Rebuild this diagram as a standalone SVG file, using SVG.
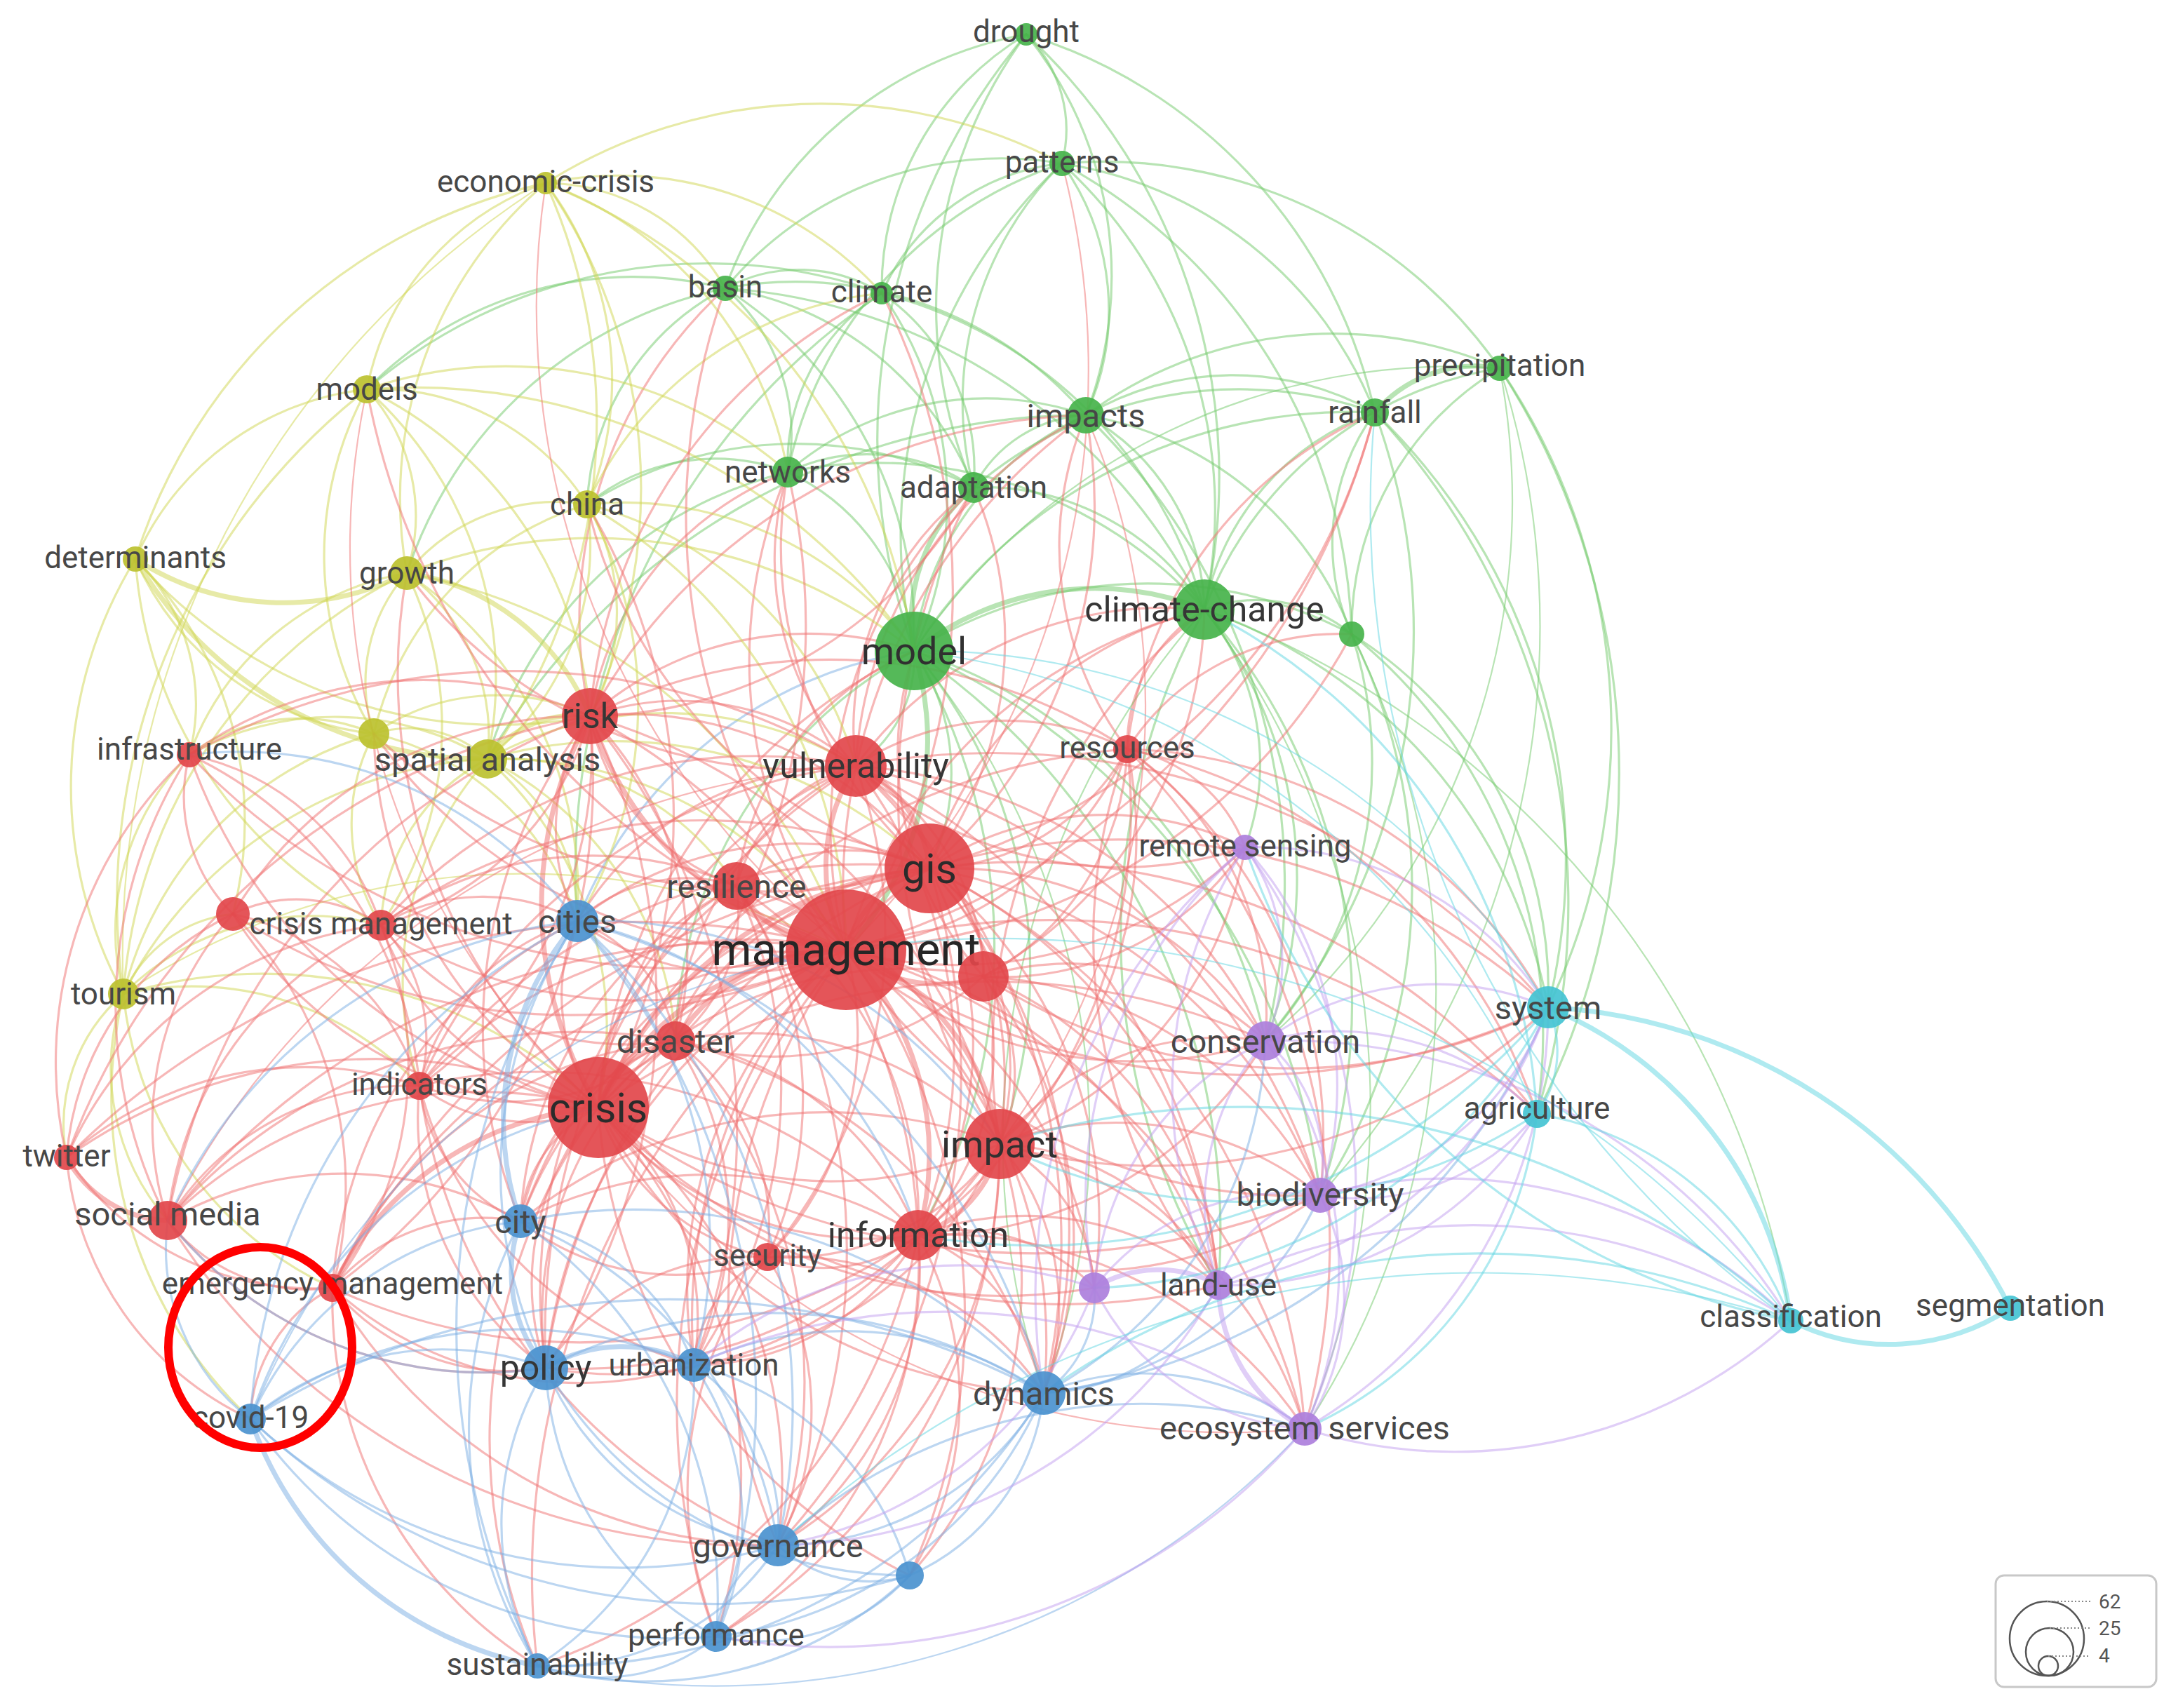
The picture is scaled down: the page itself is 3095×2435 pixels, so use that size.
<svg xmlns="http://www.w3.org/2000/svg" width="3095" height="2435" viewBox="0 0 3095 2435">
<style>
.e path{fill:none;stroke-width:3.2;stroke-opacity:.5;stroke-linecap:round}
.e .t{stroke-width:7}
.e .n{stroke-width:2.2}
.r{stroke:#ef6f70}.g{stroke:#72c96a}.y{stroke:#cfd54f}.b{stroke:#79ade3}.p{stroke:#c29df0}.c{stroke:#5fd6e2}
circle.R{fill:#e2474b}circle.G{fill:#46b34b}circle.Y{fill:#bcc12f}circle.B{fill:#4b92cf}circle.P{fill:#ad7fdc}circle.C{fill:#44c3d2}
.node circle{fill-opacity:.92}
.node text{font-family:Roboto,"Liberation Sans",sans-serif;text-anchor:middle;dominant-baseline:central;fill:#474747;font-size:44px}
.f47 text{font-size:47px}.f50 text{font-size:50px;fill:#363636}.f54 text{font-size:54px;fill:#303030}.f59 text{font-size:59px;fill:#2b2b2b}.f65 text{font-size:65px;fill:#262626}
.leg text{font-family:Roboto,"Liberation Sans",sans-serif;font-size:28px;fill:#555}
</style>
<rect width="3095" height="2435" fill="#fff"/>
<g id="connectors" class="e">
<path class="g" d="M1463 49A190 190 0 0 1 1514 233"/>
<path class="g" d="M1463 49A550 550 0 0 1 1548 592"/>
<path class="g" d="M1463 49A730 730 0 0 1 1960 588"/>
<path class="g" d="M1463 49A860 860 0 0 1 1717 869"/>
<path class="g" d="M1034 411A561 561 0 0 1 1463 49"/>
<path class="g" d="M1257 418A422 422 0 0 1 1463 49"/>
<path class="g" d="M1303 928A893 893 0 0 1 1463 49"/>
<path class="g" d="M1388 695A650 650 0 0 1 1463 49"/>
<path class="g" d="M1514 233A360 360 0 0 1 1548 592"/>
<path class="g" d="M1514 233A570 570 0 0 1 1960 588"/>
<path class="g" d="M1514 233A689 689 0 0 1 2138 525"/>
<path class="g" d="M1034 411A512 512 0 0 1 1514 233"/>
<path class="g" d="M1257 418A317 317 0 0 1 1514 233"/>
<path class="g" d="M1514 233A668 668 0 0 1 1717 869"/>
<path class="g" d="M1303 928A726 726 0 0 1 1514 233"/>
<path class="g" d="M1388 695A479 479 0 0 1 1514 233"/>
<path class="g" d="M1123 673A589 589 0 0 1 1514 233"/>
<path class="g" d="M1514 233A788 788 0 0 1 1927 904"/>
<path class="g" d="M1034 411A223 223 0 0 1 1257 418"/>
<path class="g" d="M1034 411A277 277 0 0 1 1123 673"/>
<path class="g" d="M1034 411A583 583 0 0 1 1303 928"/>
<path class="g" d="M1034 411A822 822 0 0 1 1717 869"/>
<path class="g" d="M1034 411A545 545 0 0 1 1548 592"/>
<path class="g" d="M1034 411A454 454 0 0 1 1388 695"/>
<path class="g" d="M1123 673A288 288 0 0 1 1257 418"/>
<path class="g" d="M1257 418A512 512 0 0 1 1303 928"/>
<path class="g" d="M1257 418A306 306 0 0 1 1388 695"/>
<path class="g" d="M1257 418A644 644 0 0 1 1717 869"/>
<path class="g" d="M1548 592A412 412 0 0 1 1960 588"/>
<path class="g" d="M1548 592A324 324 0 0 1 1717 869"/>
<path class="g" d="M1303 928A416 416 0 0 1 1548 592"/>
<path class="g" d="M1388 695A190 190 0 0 1 1548 592"/>
<path class="g" d="M1123 673A433 433 0 0 1 1548 592"/>
<path class="g" d="M1548 592A594 594 0 0 1 2138 525"/>
<path class="g" d="M1548 592A491 491 0 0 1 1927 904"/>
<path class="g t" d="M1960 588A189 189 0 0 1 2138 525"/>
<path class="g" d="M1717 869A371 371 0 0 1 1960 588"/>
<path class="g" d="M1927 904A318 318 0 0 1 1960 588"/>
<path class="g" d="M1303 928A740 740 0 0 1 1960 588"/>
<path class="g" d="M1717 869A544 544 0 0 1 2138 525"/>
<path class="g" d="M1927 904A434 434 0 0 1 2138 525"/>
<path class="g" d="M1123 673A312 312 0 0 1 1303 928"/>
<path class="g" d="M1123 673A266 266 0 0 1 1388 695"/>
<path class="g" d="M1123 673A625 625 0 0 1 1717 869"/>
<path class="g t" d="M1303 928A248 248 0 0 1 1388 695"/>
<path class="g" d="M1388 695A372 372 0 0 1 1717 869"/>
<path class="g t" d="M1303 928A418 418 0 0 1 1717 869"/>
<path class="g" d="M1717 869A213 213 0 0 1 1927 904"/>
<path class="g" d="M1303 928A624 624 0 0 1 1927 904"/>
<path class="g" d="M1388 695A582 582 0 0 1 1960 588"/>
<path class="g n" d="M1303 928A927 927 0 0 1 2138 525"/>
<path class="g t" d="M1303 928A437 437 0 0 1 1206 1354"/>
<path class="g" d="M1303 928A184 184 0 0 1 1220 1092"/>
<path class="g" d="M1303 928A311 311 0 0 1 1325 1238"/>
<path class="r" d="M841 1021A471 471 0 0 1 1303 928"/>
<path class="r" d="M853 1579A791 791 0 0 1 1303 928"/>
<path class="g" d="M1303 928A713 713 0 0 1 1425 1631"/>
<path class="r" d="M1206 1354A705 705 0 0 1 1717 869"/>
<path class="r" d="M1220 1092A545 545 0 0 1 1717 869"/>
<path class="r" d="M1325 1238A538 538 0 0 1 1717 869"/>
<path class="r" d="M1607 1068A227 227 0 0 1 1717 869"/>
<path class="g" d="M1717 869A621 621 0 0 1 1804 1484"/>
<path class="g" d="M1717 869A851 851 0 0 1 1882 1704"/>
<path class="r" d="M1425 1631A816 816 0 0 1 1717 869"/>
<path class="g" d="M1717 869A749 749 0 0 1 2207 1436"/>
<path class="g" d="M1927 904A601 601 0 0 1 2207 1436"/>
<path class="g" d="M1927 904A593 593 0 0 1 1804 1484"/>
<path class="g" d="M1927 904A801 801 0 0 1 1882 1704"/>
<path class="g" d="M1927 904A733 733 0 0 1 2191 1588"/>
<path class="g" d="M1960 588A883 883 0 0 1 2207 1436"/>
<path class="g" d="M2138 525A914 914 0 0 1 2207 1436"/>
<path class="g" d="M2138 525A1064 1064 0 0 1 2191 1588"/>
<path class="r" d="M1206 1354A684 684 0 0 1 1388 695"/>
<path class="r" d="M1220 1092A431 431 0 0 1 1388 695"/>
<path class="r" d="M841 1021A448 448 0 0 1 1123 673"/>
<path class="r" d="M1206 1354A686 686 0 0 1 1123 673"/>
<path class="r" d="M841 1021A640 640 0 0 1 1034 411"/>
<path class="y" d="M837 719A517 517 0 0 1 1257 418"/>
<path class="r" d="M1220 1092A598 598 0 0 1 1548 592"/>
<path class="r" d="M1206 1354A835 835 0 0 1 1548 592"/>
<path class="y" d="M778 261A297 297 0 0 1 1034 411"/>
<path class="y" d="M778 261A737 737 0 0 1 1514 233"/>
<path class="y" d="M778 261A504 504 0 0 1 1257 418"/>
<path class="g" d="M1303 928A748 748 0 0 1 1804 1484"/>
<path class="b" d="M823 1313A615 615 0 0 1 1303 928"/>
<path class="g n" d="M1303 928A1074 1074 0 0 1 1488 1986"/>
<path class="g n" d="M1927 904A1135 1135 0 0 1 1860 2037"/>
<path class="g n" d="M1717 869A1314 1314 0 0 1 2553 1883"/>
<path class="g" d="M1548 592A928 928 0 0 1 1804 1484"/>
<path class="g" d="M1960 588A910 910 0 0 1 1804 1484"/>
<path class="g n" d="M2138 525A1015 1015 0 0 1 1804 1484"/>
<path class="g n" d="M2138 525A1206 1206 0 0 1 1882 1704"/>
<path class="g" d="M1960 588A1026 1026 0 0 1 2191 1588"/>
<path class="g" d="M1717 869A963 963 0 0 0 1737 1832"/>
<path class="g n" d="M1717 869A1177 1177 0 0 1 1860 2037"/>
<path class="g" d="M1717 869A344 344 0 0 1 1775 1208"/>
<path class="g n" d="M1717 869A1140 1140 0 0 0 1488 1986"/>
<path class="g" d="M1303 928A969 969 0 0 1 1882 1704"/>
<path class="g" d="M1303 928A1003 1003 0 0 1 1737 1832"/>
<path class="g" d="M1303 928A833 833 0 0 1 1309 1761"/>
<path class="g" d="M1303 928A652 652 0 0 0 963 1484"/>
<path class="g" d="M1034 411A609 609 0 0 0 580 817"/>
<path class="g" d="M1257 418A995 995 0 0 0 823 1313"/>
<path class="g" d="M1548 592A984 984 0 0 0 695 1082"/>
<path class="g" d="M1123 673A592 592 0 0 0 695 1082"/>
<path class="g" d="M1123 673A290 290 0 0 0 837 719"/>
<path class="g" d="M1388 695A552 552 0 0 0 837 719"/>
<path class="g" d="M1034 411A366 366 0 0 0 837 719"/>
<path class="g" d="M1034 411A531 531 0 0 0 523 555"/>
<path class="g" d="M1257 418A747 747 0 0 0 523 555"/>
<path class="y" d="M778 261A389 389 0 0 0 523 555"/>
<path class="y" d="M778 261A462 462 0 0 1 837 719"/>
<path class="y" d="M778 261A590 590 0 0 0 580 817"/>
<path class="y" d="M778 261A793 793 0 0 0 193 797"/>
<path class="y" d="M778 261A825 825 0 0 1 695 1082"/>
<path class="y" d="M778 261A763 763 0 0 1 841 1021"/>
<path class="y n" d="M778 261A1303 1303 0 0 0 176 1417"/>
<path class="y" d="M778 261A849 849 0 0 1 1303 928"/>
<path class="y" d="M778 261A537 537 0 0 1 1123 673"/>
<path class="y" d="M523 555A409 409 0 0 0 193 797"/>
<path class="y" d="M523 555A268 268 0 0 1 580 817"/>
<path class="y" d="M523 555A354 354 0 0 1 837 719"/>
<path class="y" d="M523 555A554 554 0 0 1 695 1082"/>
<path class="y" d="M523 555A491 491 0 0 0 533 1046"/>
<path class="y" d="M523 555A564 564 0 0 1 841 1021"/>
<path class="y" d="M523 555A929 929 0 0 0 176 1417"/>
<path class="y" d="M523 555A865 865 0 0 1 1303 928"/>
<path class="y" d="M523 555A611 611 0 0 1 1123 673"/>
<path class="y" d="M837 719A275 275 0 0 0 580 817"/>
<path class="y" d="M837 719A390 390 0 0 1 695 1082"/>
<path class="y" d="M837 719A302 302 0 0 1 841 1021"/>
<path class="y" d="M837 719A446 446 0 0 0 533 1046"/>
<path class="y" d="M837 719A511 511 0 0 1 1303 928"/>
<path class="y" d="M837 719A534 534 0 0 1 1220 1092"/>
<path class="y" d="M837 719A734 734 0 0 1 1206 1354"/>
<path class="y" d="M837 719A594 594 0 0 1 823 1313"/>
<path class="y t" d="M193 797A388 388 0 0 0 580 817"/>
<path class="y" d="M193 797A421 421 0 0 0 533 1046"/>
<path class="y t" d="M193 797A577 577 0 0 0 695 1082"/>
<path class="y" d="M193 797A620 620 0 0 0 176 1417"/>
<path class="y" d="M193 797A686 686 0 0 0 841 1021"/>
<path class="y" d="M193 797A290 290 0 0 1 270 1076"/>
<path class="y" d="M193 797A628 628 0 0 0 543 1319"/>
<path class="y" d="M193 797A525 525 0 0 1 332 1303"/>
<path class="y" d="M580 817A289 289 0 0 1 695 1082"/>
<path class="y" d="M580 817A234 234 0 0 0 533 1046"/>
<path class="y t" d="M580 817A331 331 0 0 1 841 1021"/>
<path class="y" d="M580 817A723 723 0 0 0 176 1417"/>
<path class="y" d="M580 817A731 731 0 0 1 1303 928"/>
<path class="y" d="M580 817A552 552 0 0 1 823 1313"/>
<path class="y" d="M580 817A825 825 0 0 1 1206 1354"/>
<path class="y" d="M580 817A503 503 0 0 1 543 1319"/>
<path class="y" d="M580 817A404 404 0 0 0 270 1076"/>
<path class="y" d="M533 1046A166 166 0 0 1 695 1082"/>
<path class="y" d="M533 1046A309 309 0 0 1 841 1021"/>
<path class="y" d="M533 1046A515 515 0 0 0 176 1417"/>
<path class="y" d="M533 1046A265 265 0 0 0 270 1076"/>
<path class="y" d="M533 1046A273 273 0 0 0 543 1319"/>
<path class="y" d="M533 1046A394 394 0 0 1 823 1313"/>
<path class="y t" d="M695 1082A158 158 0 0 1 841 1021"/>
<path class="y" d="M695 1082A579 579 0 0 1 1206 1354"/>
<path class="y" d="M695 1082A649 649 0 0 1 1325 1238"/>
<path class="y" d="M695 1082A525 525 0 0 1 1220 1092"/>
<path class="y" d="M695 1082A521 521 0 0 1 853 1579"/>
<path class="y" d="M695 1082A264 264 0 0 1 823 1313"/>
<path class="y" d="M695 1082A618 618 0 0 0 176 1417"/>
<path class="y" d="M695 1082A281 281 0 0 0 543 1319"/>
<path class="y" d="M695 1082A398 398 0 0 1 1050 1263"/>
<path class="y" d="M695 1082A425 425 0 0 0 270 1076"/>
<path class="y" d="M695 1082A476 476 0 0 0 598 1548"/>
<path class="y" d="M695 1082A483 483 0 0 1 963 1484"/>
<path class="y" d="M176 1417A193 193 0 0 1 332 1303"/>
<path class="y" d="M176 1417A380 380 0 0 1 543 1319"/>
<path class="y" d="M176 1417A632 632 0 0 0 357 2023"/>
<path class="y" d="M176 1417A329 329 0 0 0 239 1740"/>
<path class="y" d="M176 1417A354 354 0 0 1 270 1076"/>
<path class="y" d="M176 1417A696 696 0 0 1 853 1579"/>
<path class="y n" d="M176 1417A1032 1032 0 0 1 1206 1354"/>
<path class="y" d="M176 1417A247 247 0 0 0 95 1650"/>
<path class="y" d="M176 1417A514 514 0 0 0 474 1836"/>
<path class="y" d="M176 1417A442 442 0 0 1 598 1548"/>
<path class="r t" d="M1206 1354A166 166 0 0 1 1325 1238"/>
<path class="r t" d="M1206 1354A262 262 0 0 1 1220 1092"/>
<path class="r t" d="M1206 1354A181 181 0 0 1 1050 1263"/>
<path class="r t" d="M1206 1354A494 494 0 0 1 841 1021"/>
<path class="r t" d="M1206 1354A200 200 0 0 0 1402 1392"/>
<path class="r t" d="M1206 1354A419 419 0 0 0 853 1579"/>
<path class="r t" d="M1206 1354A276 276 0 0 0 963 1484"/>
<path class="r t" d="M1206 1354A353 353 0 0 1 1425 1631"/>
<path class="r t" d="M1206 1354A420 420 0 0 1 1309 1761"/>
<path class="r" d="M1206 1354A492 492 0 0 0 1607 1068"/>
<path class="r" d="M1206 1354A664 664 0 0 1 543 1319"/>
<path class="r" d="M1206 1354A875 875 0 0 1 332 1303"/>
<path class="r" d="M1206 1354A638 638 0 0 0 598 1548"/>
<path class="r" d="M1206 1354A452 452 0 0 1 1094 1792"/>
<path class="r" d="M1206 1354A877 877 0 0 0 474 1836"/>
<path class="r" d="M1206 1354A976 976 0 0 1 270 1076"/>
<path class="r" d="M1206 1354A1041 1041 0 0 0 239 1740"/>
<path class="r" d="M1206 1354A1150 1150 0 0 0 95 1650"/>
<path class="r" d="M1206 1354A385 385 0 0 1 823 1313"/>
<path class="r" d="M1206 1354A604 604 0 0 0 742 1741"/>
<path class="r" d="M1206 1354A734 734 0 0 0 778 1950"/>
<path class="r" d="M1206 1354A630 630 0 0 0 989 1946"/>
<path class="r" d="M1206 1354A692 692 0 0 1 1488 1986"/>
<path class="r" d="M1206 1354A855 855 0 0 0 1109 2203"/>
<path class="r" d="M1206 1354A612 612 0 0 0 1804 1484"/>
<path class="r" d="M1206 1354A761 761 0 0 0 1882 1704"/>
<path class="r" d="M1206 1354A587 587 0 0 0 1775 1208"/>
<path class="r" d="M1206 1354A1004 1004 0 0 0 2207 1436"/>
<path class="r" d="M1206 1354A714 714 0 0 1 1737 1832"/>
<path class="r" d="M1206 1354A598 598 0 0 1 1560 1836"/>
<path class="r" d="M1206 1354A946 946 0 0 1 1860 2037"/>
<path class="r" d="M1206 1354A1051 1051 0 0 1 523 555"/>
<path class="r n" d="M1206 1354A1174 1174 0 0 1 778 261"/>
<path class="r" d="M1206 1354A958 958 0 0 1 1034 411"/>
<path class="r" d="M1206 1354A937 937 0 0 0 1257 418"/>
<path class="r n" d="M1206 1354A1162 1162 0 0 0 1514 233"/>
<path class="r" d="M1206 1354A1075 1075 0 0 0 1960 588"/>
<path class="r" d="M1206 1354A850 850 0 0 0 1927 904"/>
<path class="r" d="M1206 1354A1012 1012 0 0 1 2191 1588"/>
<path class="r" d="M1206 1354A996 996 0 0 0 1021 2333"/>
<path class="r" d="M1206 1354A1112 1112 0 0 0 766 2375"/>
<path class="r" d="M1206 1354A897 897 0 0 1 1297 2246"/>
<path class="r" d="M1206 1354A740 740 0 0 1 533 1046"/>
<path class="r t" d="M853 1579A582 582 0 0 1 1325 1238"/>
<path class="r" d="M853 1579A610 610 0 0 1 1220 1092"/>
<path class="r t" d="M853 1579A558 558 0 0 1 841 1021"/>
<path class="r" d="M853 1579A372 372 0 0 1 1050 1263"/>
<path class="r t" d="M853 1579A145 145 0 0 1 963 1484"/>
<path class="r" d="M853 1579A574 574 0 0 0 1425 1631"/>
<path class="r" d="M853 1579A491 491 0 0 0 1309 1761"/>
<path class="r" d="M853 1579A321 321 0 0 0 1094 1792"/>
<path class="r" d="M853 1579A257 257 0 0 1 598 1548"/>
<path class="r" d="M853 1579A405 405 0 0 1 543 1319"/>
<path class="r" d="M853 1579A590 590 0 0 1 332 1303"/>
<path class="r" d="M853 1579A770 770 0 0 1 270 1076"/>
<path class="r" d="M853 1579A635 635 0 0 0 239 1740"/>
<path class="r" d="M853 1579A761 761 0 0 0 95 1650"/>
<path class="r t" d="M853 1579A458 458 0 0 0 474 1836"/>
<path class="r" d="M853 1579A196 196 0 0 0 742 1741"/>
<path class="r" d="M853 1579A378 378 0 0 0 778 1950"/>
<path class="r" d="M853 1579A391 391 0 0 1 989 1946"/>
<path class="r" d="M853 1579A268 268 0 0 1 823 1313"/>
<path class="r" d="M853 1579A674 674 0 0 1 1109 2203"/>
<path class="r" d="M853 1579A754 754 0 0 0 1488 1986"/>
<path class="r" d="M853 1579A772 772 0 0 1 1021 2333"/>
<path class="r" d="M853 1579A910 910 0 0 1 1607 1068"/>
<path class="r" d="M853 1579A580 580 0 0 1 1402 1392"/>
<path class="r" d="M853 1579A955 955 0 0 1 1804 1484"/>
<path class="r" d="M853 1579A800 800 0 0 0 766 2375"/>
<path class="r" d="M853 1579A810 810 0 0 1 580 817"/>
<path class="r" d="M853 1579A622 622 0 0 1 533 1046"/>
<path class="r n" d="M853 1579A1076 1076 0 0 1 523 555"/>
<path class="r" d="M853 1579A860 860 0 0 0 837 719"/>
<path class="r" d="M853 1579A945 945 0 0 0 1123 673"/>
<path class="r" d="M853 1579A1037 1037 0 0 0 1882 1704"/>
<path class="r" d="M853 1579A920 920 0 0 0 1737 1832"/>
<path class="r" d="M853 1579A752 752 0 0 0 1560 1836"/>
<path class="r n" d="M853 1579A1106 1106 0 0 0 1860 2037"/>
<path class="r" d="M853 1579A801 801 0 0 0 1297 2246"/>
<path class="r t" d="M1325 1238A180 180 0 0 0 1220 1092"/>
<path class="r" d="M1325 1238A276 276 0 0 0 1050 1263"/>
<path class="r" d="M1325 1238A530 530 0 0 0 841 1021"/>
<path class="r" d="M1325 1238A172 172 0 0 1 1402 1392"/>
<path class="r" d="M1325 1238A405 405 0 0 1 1425 1631"/>
<path class="r" d="M1325 1238A523 523 0 0 1 1309 1761"/>
<path class="r" d="M1325 1238A329 329 0 0 0 1607 1068"/>
<path class="r" d="M1325 1238A437 437 0 0 0 963 1484"/>
<path class="r" d="M1325 1238A451 451 0 0 1 1775 1208"/>
<path class="r" d="M1325 1238A538 538 0 0 1 1804 1484"/>
<path class="r" d="M1325 1238A726 726 0 0 1 1882 1704"/>
<path class="r" d="M1325 1238A723 723 0 0 1 1737 1832"/>
<path class="r" d="M1325 1238A904 904 0 0 1 2207 1436"/>
<path class="r" d="M1325 1238A508 508 0 0 0 823 1313"/>
<path class="r" d="M1325 1238A786 786 0 0 0 543 1319"/>
<path class="r" d="M1325 1238A783 783 0 0 0 989 1946"/>
<path class="r" d="M1325 1238A765 765 0 0 1 1488 1986"/>
<path class="r" d="M1325 1238A962 962 0 0 1 1860 2037"/>
<path class="r" d="M1325 1238A600 600 0 0 1 1123 673"/>
<path class="r" d="M1325 1238A547 547 0 0 0 1388 695"/>
<path class="r" d="M1325 1238A683 683 0 0 0 1548 592"/>
<path class="r" d="M1325 1238A908 908 0 0 0 1960 588"/>
<path class="r" d="M1325 1238A712 712 0 0 1 837 719"/>
<path class="r" d="M1325 1238A815 815 0 0 1 533 1046"/>
<path class="r" d="M1325 1238A770 770 0 0 0 742 1741"/>
<path class="r" d="M1325 1238A898 898 0 0 0 778 1950"/>
<path class="r" d="M1325 1238A989 989 0 0 1 1109 2203"/>
<path class="r" d="M1325 1238A934 934 0 0 1 2191 1588"/>
<path class="r" d="M1325 1238A643 643 0 0 1 1560 1836"/>
<path class="r" d="M1325 1238A790 790 0 0 0 598 1548"/>
<path class="r" d="M1325 1238A1040 1040 0 0 0 474 1836"/>
<path class="r" d="M1220 1092A386 386 0 0 0 841 1021"/>
<path class="r" d="M1220 1092A241 241 0 0 0 1050 1263"/>
<path class="r" d="M1220 1092A388 388 0 0 1 1607 1068"/>
<path class="r" d="M1220 1092A577 577 0 0 1 1425 1631"/>
<path class="r" d="M1220 1092A469 469 0 0 0 963 1484"/>
<path class="r" d="M1220 1092A675 675 0 0 1 1309 1761"/>
<path class="r" d="M1220 1092A351 351 0 0 1 1402 1392"/>
<path class="r" d="M1220 1092A950 950 0 0 0 270 1076"/>
<path class="r" d="M1220 1092A714 714 0 0 0 543 1319"/>
<path class="r" d="M1220 1092A454 454 0 0 0 823 1313"/>
<path class="r" d="M1220 1092A771 771 0 0 0 598 1548"/>
<path class="r" d="M1220 1092A704 704 0 0 1 1804 1484"/>
<path class="r" d="M1220 1092A1045 1045 0 0 1 2207 1436"/>
<path class="r" d="M1220 1092A965 965 0 0 0 778 1950"/>
<path class="r" d="M1220 1092A430 430 0 0 1 1123 673"/>
<path class="r" d="M1220 1092A696 696 0 0 1 580 817"/>
<path class="r" d="M1220 1092A900 900 0 0 1 1882 1704"/>
<path class="r" d="M1220 1092A903 903 0 0 1 1737 1832"/>
<path class="r" d="M1220 1092A933 933 0 0 1 1488 1986"/>
<path class="r" d="M1220 1092A567 567 0 0 0 1775 1208"/>
<path class="r" d="M1220 1092A711 711 0 0 1 1094 1792"/>
<path class="r n" d="M1220 1092A1176 1176 0 0 0 239 1740"/>
<path class="r" d="M841 1021A320 320 0 0 0 1050 1263"/>
<path class="r" d="M841 1021A479 479 0 0 1 963 1484"/>
<path class="r" d="M841 1021A574 574 0 0 0 270 1076"/>
<path class="r" d="M841 1021A422 422 0 0 1 543 1319"/>
<path class="r" d="M841 1021A582 582 0 0 0 332 1303"/>
<path class="r" d="M841 1021A580 580 0 0 1 598 1548"/>
<path class="r" d="M841 1021A293 293 0 0 0 823 1313"/>
<path class="r" d="M841 1021A937 937 0 0 0 239 1740"/>
<path class="r" d="M841 1021A844 844 0 0 1 1425 1631"/>
<path class="r" d="M841 1021A767 767 0 0 1 1607 1068"/>
<path class="r" d="M841 1021A876 876 0 0 1 1309 1761"/>
<path class="r" d="M841 1021A894 894 0 0 1 474 1836"/>
<path class="r" d="M841 1021A976 976 0 0 0 95 1650"/>
<path class="r" d="M841 1021A636 636 0 0 0 1388 695"/>
<path class="r" d="M841 1021A733 733 0 0 1 1257 418"/>
<path class="r" d="M841 1021A827 827 0 0 1 1548 592"/>
<path class="r" d="M841 1021A727 727 0 0 0 742 1741"/>
<path class="r" d="M841 1021A931 931 0 0 1 778 1950"/>
<path class="r" d="M841 1021A937 937 0 0 1 989 1946"/>
<path class="r" d="M1050 1263A238 238 0 0 1 963 1484"/>
<path class="r" d="M1050 1263A232 232 0 0 0 823 1313"/>
<path class="r" d="M1050 1263A525 525 0 0 1 1425 1631"/>
<path class="r" d="M1050 1263A561 561 0 0 1 1309 1761"/>
<path class="r" d="M1050 1263A510 510 0 0 0 543 1319"/>
<path class="r" d="M1050 1263A686 686 0 0 1 989 1946"/>
<path class="r" d="M1050 1263A739 739 0 0 0 778 1950"/>
<path class="r" d="M1050 1263A568 568 0 0 0 742 1741"/>
<path class="r" d="M1050 1263A420 420 0 0 1 1303 928"/>
<path class="r" d="M1050 1263A942 942 0 0 1 1109 2203"/>
<path class="r" d="M1050 1263A531 531 0 0 1 1094 1792"/>
<path class="r t" d="M1425 1631A174 174 0 0 1 1309 1761"/>
<path class="r" d="M1425 1631A240 240 0 0 0 1402 1392"/>
<path class="r" d="M1425 1631A368 368 0 0 1 1094 1792"/>
<path class="r" d="M1425 1631A485 485 0 0 0 963 1484"/>
<path class="r" d="M1425 1631A360 360 0 0 1 1488 1986"/>
<path class="r" d="M1425 1631A406 406 0 0 1 1804 1484"/>
<path class="r" d="M1425 1631A463 463 0 0 1 1882 1704"/>
<path class="r" d="M1425 1631A371 371 0 0 1 1737 1832"/>
<path class="r" d="M1425 1631A245 245 0 0 1 1560 1836"/>
<path class="r" d="M1425 1631A595 595 0 0 1 1860 2037"/>
<path class="r" d="M1425 1631A806 806 0 0 0 2207 1436"/>
<path class="r" d="M1425 1631A653 653 0 0 1 1109 2203"/>
<path class="r" d="M1425 1631A538 538 0 0 1 989 1946"/>
<path class="r" d="M1425 1631A592 592 0 0 0 1607 1068"/>
<path class="r" d="M1425 1631A937 937 0 0 1 1388 695"/>
<path class="r n" d="M1425 1631A1046 1046 0 0 0 1548 592"/>
<path class="r" d="M1425 1631A549 549 0 0 0 1775 1208"/>
<path class="r" d="M1425 1631A692 692 0 0 0 742 1741"/>
<path class="r" d="M1425 1631A721 721 0 0 1 778 1950"/>
<path class="r" d="M1425 1631A628 628 0 0 1 1297 2246"/>
<path class="r" d="M1425 1631A810 810 0 0 1 1021 2333"/>
<path class="r" d="M1309 1761A217 217 0 0 1 1094 1792"/>
<path class="r" d="M1309 1761A443 443 0 0 0 963 1484"/>
<path class="r" d="M1309 1761A288 288 0 0 1 1488 1986"/>
<path class="r" d="M1309 1761A485 485 0 0 1 1109 2203"/>
<path class="r" d="M1309 1761A370 370 0 0 1 989 1946"/>
<path class="r" d="M1309 1761A564 564 0 0 1 778 1950"/>
<path class="r" d="M1309 1761A262 262 0 0 1 1560 1836"/>
<path class="r" d="M1309 1761A434 434 0 0 1 1737 1832"/>
<path class="r" d="M1309 1761A485 485 0 0 1 1297 2246"/>
<path class="r" d="M1309 1761A640 640 0 0 1 1021 2333"/>
<path class="r" d="M1309 1761A567 567 0 0 0 1804 1484"/>
<path class="r" d="M1309 1761A576 576 0 0 0 1882 1704"/>
<path class="r" d="M1309 1761A617 617 0 0 1 1860 2037"/>
<path class="r" d="M1309 1761A567 567 0 0 0 742 1741"/>
<path class="r" d="M1309 1761A742 742 0 0 0 598 1548"/>
<path class="r" d="M1309 1761A838 838 0 0 1 474 1836"/>
<path class="r" d="M1309 1761A820 820 0 0 1 766 2375"/>
<path class="r" d="M1402 1392A383 383 0 0 0 1607 1068"/>
<path class="r" d="M1402 1392A412 412 0 0 1 1804 1484"/>
<path class="r" d="M1402 1392A449 449 0 0 1 963 1484"/>
<path class="r" d="M1402 1392A416 416 0 0 0 1775 1208"/>
<path class="r" d="M1402 1392A380 380 0 0 1 1309 1761"/>
<path class="r" d="M1402 1392A572 572 0 0 1 1882 1704"/>
<path class="r" d="M1402 1392A600 600 0 0 1 1488 1986"/>
<path class="r" d="M1402 1392A806 806 0 0 0 2207 1436"/>
<path class="r" d="M1402 1392A553 553 0 0 1 1737 1832"/>
<path class="r" d="M1402 1392A610 610 0 0 0 1717 869"/>
<path class="r" d="M1402 1392A474 474 0 0 1 1303 928"/>
<path class="r" d="M963 1484A371 371 0 0 1 598 1548"/>
<path class="r" d="M963 1484A221 221 0 0 0 823 1313"/>
<path class="r" d="M963 1484A335 335 0 0 1 1094 1792"/>
<path class="r" d="M963 1484A339 339 0 0 0 742 1741"/>
<path class="r" d="M963 1484A602 602 0 0 0 474 1836"/>
<path class="r" d="M963 1484A502 502 0 0 0 778 1950"/>
<path class="r" d="M963 1484A768 768 0 0 0 239 1740"/>
<path class="r" d="M963 1484A451 451 0 0 1 543 1319"/>
<path class="r" d="M963 1484A463 463 0 0 1 989 1946"/>
<path class="r" d="M963 1484A734 734 0 0 1 1109 2203"/>
<path class="r" d="M963 1484A726 726 0 0 1 1488 1986"/>
<path class="r" d="M543 1319A212 212 0 0 0 332 1303"/>
<path class="r" d="M543 1319A365 365 0 0 0 270 1076"/>
<path class="r" d="M543 1319A235 235 0 0 1 598 1548"/>
<path class="r" d="M543 1319A519 519 0 0 0 239 1740"/>
<path class="r" d="M543 1319A557 557 0 0 0 95 1650"/>
<path class="r" d="M543 1319A522 522 0 0 1 474 1836"/>
<path class="r" d="M543 1319A280 280 0 0 1 823 1313"/>
<path class="r" d="M332 1303A235 235 0 0 1 270 1076"/>
<path class="r" d="M332 1303A420 420 0 0 0 95 1650"/>
<path class="r" d="M332 1303A447 447 0 0 0 239 1740"/>
<path class="r" d="M332 1303A552 552 0 0 1 474 1836"/>
<path class="r" d="M332 1303A361 361 0 0 1 598 1548"/>
<path class="r" d="M270 1076A600 600 0 0 0 95 1650"/>
<path class="r" d="M270 1076A665 665 0 0 0 239 1740"/>
<path class="r" d="M270 1076A575 575 0 0 1 598 1548"/>
<path class="r t" d="M95 1650A170 170 0 0 0 239 1740"/>
<path class="r" d="M95 1650A422 422 0 0 0 474 1836"/>
<path class="r" d="M95 1650A513 513 0 0 1 598 1548"/>
<path class="r" d="M95 1650A456 456 0 0 0 357 2023"/>
<path class="r" d="M239 1740A254 254 0 0 0 474 1836"/>
<path class="r" d="M239 1740A407 407 0 0 1 598 1548"/>
<path class="r" d="M239 1740A503 503 0 0 1 742 1741"/>
<path class="r" d="M239 1740A578 578 0 0 0 778 1950"/>
<path class="r" d="M239 1740A985 985 0 0 0 1109 2203"/>
<path class="r" d="M474 1836A284 284 0 0 1 742 1741"/>
<path class="r" d="M474 1836A325 325 0 0 0 778 1950"/>
<path class="r" d="M474 1836A527 527 0 0 0 989 1946"/>
<path class="r" d="M474 1836A220 220 0 0 0 357 2023"/>
<path class="r" d="M474 1836A629 629 0 0 1 823 1313"/>
<path class="r" d="M474 1836A733 733 0 0 0 1109 2203"/>
<path class="r" d="M474 1836A613 613 0 0 0 766 2375"/>
<path class="r" d="M598 1548A325 325 0 0 1 823 1313"/>
<path class="r" d="M598 1548A241 241 0 0 0 742 1741"/>
<path class="r" d="M598 1548A440 440 0 0 0 778 1950"/>
<path class="r" d="M598 1548A831 831 0 0 0 1109 2203"/>
<path class="r" d="M598 1548A558 558 0 0 0 989 1946"/>
<path class="r" d="M1607 1068A460 460 0 0 1 1804 1484"/>
<path class="r" d="M1607 1068A219 219 0 0 1 1775 1208"/>
<path class="r" d="M1607 1068A704 704 0 0 1 2207 1436"/>
<path class="r" d="M1607 1068A693 693 0 0 1 1882 1704"/>
<path class="r" d="M1607 1068A754 754 0 0 1 1309 1761"/>
<path class="r" d="M1607 1068A480 480 0 0 1 1548 592"/>
<path class="r" d="M1607 1068A596 596 0 0 1 1960 588"/>
<path class="r" d="M1607 1068A360 360 0 0 1 1927 904"/>
<path class="r" d="M1607 1068A775 775 0 0 0 1737 1832"/>
<path class="r" d="M1607 1068A1001 1001 0 0 1 1860 2037"/>
<path class="r" d="M1607 1068A782 782 0 0 1 2191 1588"/>
<path class="r" d="M1094 1792A356 356 0 0 1 742 1741"/>
<path class="r" d="M1094 1792A353 353 0 0 0 778 1950"/>
<path class="r" d="M1094 1792A186 186 0 0 0 989 1946"/>
<path class="r" d="M1094 1792A411 411 0 0 1 1109 2203"/>
<path class="r" d="M1094 1792A546 546 0 0 0 1021 2333"/>
<path class="r" d="M1094 1792A439 439 0 0 1 1488 1986"/>
<path class="b t" d="M823 1313A436 436 0 0 0 742 1741"/>
<path class="b" d="M823 1313A639 639 0 0 0 778 1950"/>
<path class="b" d="M823 1313A654 654 0 0 1 989 1946"/>
<path class="b" d="M823 1313A935 935 0 0 1 1109 2203"/>
<path class="b" d="M823 1313A1063 1063 0 0 0 766 2375"/>
<path class="b" d="M823 1313A849 849 0 0 0 357 2023"/>
<path class="b" d="M823 1313A946 946 0 0 1 1488 1986"/>
<path class="b" d="M823 1313A1039 1039 0 0 1 1021 2333"/>
<path class="b" d="M823 1313A602 602 0 0 0 270 1076"/>
<path class="b" d="M823 1313A681 681 0 0 1 1425 1631"/>
<path class="b" d="M823 1313A661 661 0 0 1 1309 1761"/>
<path class="b" d="M823 1313A723 723 0 0 0 239 1740"/>
<path class="b t" d="M742 1741A212 212 0 0 0 778 1950"/>
<path class="b" d="M742 1741A321 321 0 0 1 989 1946"/>
<path class="b" d="M742 1741A590 590 0 0 1 1109 2203"/>
<path class="b" d="M742 1741A477 477 0 0 0 357 2023"/>
<path class="b" d="M742 1741A634 634 0 0 0 766 2375"/>
<path class="b" d="M742 1741A785 785 0 0 1 1488 1986"/>
<path class="b" d="M742 1741A654 654 0 0 1 1021 2333"/>
<path class="b t" d="M778 1950A211 211 0 0 1 989 1946"/>
<path class="b" d="M778 1950A417 417 0 0 0 1109 2203"/>
<path class="b" d="M778 1950A425 425 0 0 0 766 2375"/>
<path class="b" d="M778 1950A453 453 0 0 0 1021 2333"/>
<path class="b" d="M778 1950A427 427 0 0 0 357 2023"/>
<path class="b" d="M778 1950A711 711 0 0 1 1488 1986"/>
<path class="b" d="M778 1950A598 598 0 0 0 1297 2246"/>
<path class="b" d="M778 1950A578 578 0 0 1 239 1740"/>
<path class="b" d="M989 1946A284 284 0 0 1 1109 2203"/>
<path class="b" d="M989 1946A501 501 0 0 1 1488 1986"/>
<path class="b" d="M989 1946A388 388 0 0 1 1021 2333"/>
<path class="b" d="M989 1946A483 483 0 0 1 766 2375"/>
<path class="b" d="M989 1946A430 430 0 0 1 1297 2246"/>
<path class="b" d="M989 1946A637 637 0 0 0 357 2023"/>
<path class="b" d="M357 2023A773 773 0 0 0 1109 2203"/>
<path class="b t" d="M357 2023A540 540 0 0 0 766 2375"/>
<path class="b" d="M357 2023A733 733 0 0 0 1021 2333"/>
<path class="b" d="M357 2023A1132 1132 0 0 1 1488 1986"/>
<path class="b" d="M357 2023A307 307 0 0 1 239 1740"/>
<path class="b" d="M357 2023A665 665 0 0 1 853 1579"/>
<path class="b n" d="M357 2023A1081 1081 0 0 1 1206 1354"/>
<path class="b" d="M357 2023A966 966 0 0 0 1297 2246"/>
<path class="b" d="M1488 1986A437 437 0 0 1 1109 2203"/>
<path class="b" d="M1488 1986A323 323 0 0 1 1297 2246"/>
<path class="b" d="M1488 1986A582 582 0 0 1 1021 2333"/>
<path class="b" d="M1488 1986A293 293 0 0 0 1737 1832"/>
<path class="b" d="M1488 1986A375 375 0 0 1 1860 2037"/>
<path class="b" d="M1488 1986A166 166 0 0 0 1560 1836"/>
<path class="b" d="M1488 1986A485 485 0 0 0 1882 1704"/>
<path class="b" d="M1488 1986A593 593 0 0 0 1804 1484"/>
<path class="b" d="M1488 1986A905 905 0 0 0 2207 1436"/>
<path class="b" d="M1488 1986A820 820 0 0 1 766 2375"/>
<path class="b" d="M1109 2203A157 157 0 0 0 1021 2333"/>
<path class="b" d="M1109 2203A384 384 0 0 1 766 2375"/>
<path class="b" d="M1109 2203A193 193 0 0 0 1297 2246"/>
<path class="b" d="M1109 2203A769 769 0 0 1 1860 2037"/>
<path class="b" d="M1021 2333A258 258 0 0 1 766 2375"/>
<path class="b" d="M1021 2333A289 289 0 0 0 1297 2246"/>
<path class="b" d="M1297 2246A546 546 0 0 1 766 2375"/>
<path class="b n" d="M766 2375A1145 1145 0 0 0 1860 2037"/>
<path class="p" d="M1775 1208A278 278 0 0 1 1804 1484"/>
<path class="p" d="M1775 1208A507 507 0 0 1 1882 1704"/>
<path class="p" d="M1775 1208A625 625 0 0 0 1737 1832"/>
<path class="p" d="M1775 1208A833 833 0 0 1 1860 2037"/>
<path class="p" d="M1775 1208A488 488 0 0 1 2207 1436"/>
<path class="p" d="M1775 1208A664 664 0 0 0 1560 1836"/>
<path class="p" d="M1775 1208A829 829 0 0 0 1488 1986"/>
<path class="p" d="M1804 1484A233 233 0 0 1 1882 1704"/>
<path class="p" d="M1804 1484A354 354 0 0 0 1737 1832"/>
<path class="p" d="M1804 1484A556 556 0 0 1 1860 2037"/>
<path class="p" d="M1804 1484A428 428 0 0 0 1560 1836"/>
<path class="p" d="M1804 1484A406 406 0 0 1 2207 1436"/>
<path class="p" d="M1804 1484A401 401 0 0 1 2191 1588"/>
<path class="p" d="M1804 1484A849 849 0 0 1 2553 1883"/>
<path class="p" d="M1882 1704A193 193 0 0 0 1737 1832"/>
<path class="p" d="M1882 1704A334 334 0 0 1 1860 2037"/>
<path class="p" d="M1882 1704A348 348 0 0 0 1560 1836"/>
<path class="p" d="M1882 1704A421 421 0 0 0 2207 1436"/>
<path class="p" d="M1882 1704A330 330 0 0 0 2191 1588"/>
<path class="p" d="M1882 1704A694 694 0 0 1 2553 1883"/>
<path class="p t" d="M1737 1832A239 239 0 0 0 1860 2037"/>
<path class="p t" d="M1737 1832A177 177 0 0 0 1560 1836"/>
<path class="p" d="M1737 1832A615 615 0 0 0 2207 1436"/>
<path class="p" d="M1737 1832A729 729 0 0 1 1109 2203"/>
<path class="p" d="M1737 1832A515 515 0 0 0 2191 1588"/>
<path class="p" d="M1860 2037A361 361 0 0 1 1560 1836"/>
<path class="p" d="M1860 2037A710 710 0 0 0 2553 1883"/>
<path class="p" d="M1737 1832A818 818 0 0 1 2553 1883"/>
<path class="p" d="M1860 2037A694 694 0 0 0 2207 1436"/>
<path class="p" d="M1860 2037A876 876 0 0 0 989 1946"/>
<path class="p" d="M1860 2037A890 890 0 0 1 1021 2333"/>
<path class="p" d="M1560 1836A582 582 0 0 1 1109 2203"/>
<path class="p" d="M1560 1836A581 581 0 0 0 989 1946"/>
<path class="c" d="M2207 1436A153 153 0 0 1 2191 1588"/>
<path class="c t" d="M2207 1436A565 565 0 0 1 2553 1883"/>
<path class="c t" d="M2207 1436A786 786 0 0 1 2866 1865"/>
<path class="c t" d="M2866 1865A313 313 0 0 1 2553 1883"/>
<path class="c" d="M2191 1588A467 467 0 0 1 2553 1883"/>
<path class="c n" d="M2207 1436A1037 1037 0 0 0 1303 928"/>
<path class="c" d="M2207 1436A955 955 0 0 1 1309 1761"/>
<path class="c" d="M2207 1436A761 761 0 0 1 1560 1836"/>
<path class="c" d="M2191 1588A860 860 0 0 0 1717 869"/>
<path class="c n" d="M2191 1588A1107 1107 0 0 0 1303 928"/>
<path class="c" d="M2191 1588A767 767 0 0 1 1425 1631"/>
<path class="c" d="M2191 1588A558 558 0 0 1 1860 2037"/>
<path class="c" d="M2553 1883A1070 1070 0 0 0 1488 1986"/>
<path class="c" d="M2553 1883A1156 1156 0 0 0 1425 1631"/>
<path class="c" d="M2553 1883A1030 1030 0 0 1 1775 1208"/>
<path class="c n" d="M2553 1883A1447 1447 0 0 0 1206 1354"/>
<path class="c n" d="M2553 1883A1424 1424 0 0 1 1960 588"/>
<path class="c n" d="M2553 1883A1479 1479 0 0 0 1109 2203"/>
</g>
<g id="n-management" class="node f65"><circle class="R" cx="1206" cy="1354" r="86"/><text x="1206" y="1354">management</text></g>
<g id="n-crisis" class="node f59"><circle class="R" cx="853" cy="1579" r="72"/><text x="853" y="1579">crisis</text></g>
<g id="n-gis" class="node f59"><circle class="R" cx="1325" cy="1238" r="64"/><text x="1325" y="1238">gis</text></g>
<g id="n-model" class="node f54"><circle class="G" cx="1303" cy="928" r="56"/><text x="1303" y="928">model</text></g>
<g id="n-impact" class="node f54"><circle class="R" cx="1425" cy="1631" r="50"/><text x="1425" y="1631">impact</text></g>
<g id="n-vulnerability" class="node f50"><circle class="R" cx="1220" cy="1092" r="44"/><text x="1220" y="1092">vulnerability</text></g>
<g id="n-climate-change" class="node f50"><circle class="G" cx="1717" cy="869" r="43"/><text x="1717" y="869">climate-change</text></g>
<g id="n-risk" class="node f50"><circle class="R" cx="841" cy="1021" r="40"/><text x="841" y="1021">risk</text></g>
<g id="n-red-unlabelled" class="node"><circle class="R" cx="1402" cy="1392" r="36"/></g>
<g id="n-information" class="node f50"><circle class="R" cx="1309" cy="1761" r="36"/><text x="1309" y="1761">information</text></g>
<g id="n-resilience" class="node f47"><circle class="R" cx="1050" cy="1263" r="34"/><text x="1050" y="1263">resilience</text></g>
<g id="n-policy" class="node f50"><circle class="B" cx="778" cy="1950" r="32"/><text x="778" y="1950">policy</text></g>
<g id="n-dynamics" class="node f47"><circle class="B" cx="1488" cy="1986" r="31"/><text x="1488" y="1986">dynamics</text></g>
<g id="n-cities" class="node f47"><circle class="B" cx="823" cy="1313" r="30"/><text x="823" y="1313">cities</text></g>
<g id="n-system" class="node f47"><circle class="C" cx="2207" cy="1436" r="30"/><text x="2207" y="1436">system</text></g>
<g id="n-governance" class="node f47"><circle class="B" cx="1109" cy="2203" r="30"/><text x="1109" y="2203">governance</text></g>
<g id="n-spatial-analysis" class="node f47"><circle class="Y" cx="695" cy="1082" r="28"/><text x="695" y="1082">spatial analysis</text></g>
<g id="n-disaster" class="node f47"><circle class="R" cx="963" cy="1484" r="28"/><text x="963" y="1484">disaster</text></g>
<g id="n-social-media" class="node f47"><circle class="R" cx="239" cy="1740" r="28"/><text x="239" y="1730">social media</text></g>
<g id="n-conservation" class="node f47"><circle class="P" cx="1804" cy="1484" r="28"/><text x="1804" y="1484">conservation</text></g>
<g id="n-impacts" class="node f47"><circle class="G" cx="1548" cy="592" r="26"/><text x="1548" y="592">impacts</text></g>
<g id="n-biodiversity" class="node f47"><circle class="P" cx="1882" cy="1704" r="25"/><text x="1882" y="1702">biodiversity</text></g>
<g id="n-growth" class="node"><circle class="Y" cx="580" cy="817" r="24"/><text x="580" y="817">growth</text></g>
<g id="n-city" class="node f47"><circle class="B" cx="742" cy="1741" r="24"/><text x="742" y="1741">city</text></g>
<g id="n-urbanization" class="node"><circle class="B" cx="989" cy="1946" r="24"/><text x="989" y="1946">urbanization</text></g>
<g id="n-red-unlabelled-2" class="node"><circle class="R" cx="332" cy="1303" r="24"/></g>
<g id="n-ecosystem-services" class="node f47"><circle class="P" cx="1860" cy="2037" r="24"/><text x="1860" y="2035">ecosystem services</text></g>
<g id="n-networks" class="node"><circle class="G" cx="1123" cy="673" r="22"/><text x="1123" y="673">networks</text></g>
<g id="n-adaptation" class="node"><circle class="G" cx="1388" cy="695" r="22"/><text x="1388" y="695">adaptation</text></g>
<g id="n-yellow-unlabelled" class="node"><circle class="Y" cx="533" cy="1046" r="22"/></g>
<g id="n-tourism" class="node"><circle class="Y" cx="176" cy="1417" r="22"/><text x="176" y="1417">tourism</text></g>
<g id="n-crisis-management" class="node"><circle class="R" cx="543" cy="1319" r="22"/><text x="543" y="1317">crisis management</text></g>
<g id="n-covid-19" class="node"><circle class="B" cx="357" cy="2023" r="22"/><text x="357" y="2021">covid-19</text></g>
<g id="n-performance" class="node"><circle class="B" cx="1021" cy="2333" r="22"/><text x="1021" y="2331">performance</text></g>
<g id="n-purple-unlabelled" class="node"><circle class="P" cx="1560" cy="1836" r="22"/></g>
<g id="n-land-use" class="node"><circle class="P" cx="1737" cy="1832" r="21"/><text x="1737" y="1832">land-use</text></g>
<g id="n-rainfall" class="node"><circle class="G" cx="1960" cy="588" r="20"/><text x="1960" y="588">rainfall</text></g>
<g id="n-models" class="node"><circle class="Y" cx="523" cy="555" r="20"/><text x="523" y="555">models</text></g>
<g id="n-china" class="node"><circle class="Y" cx="837" cy="719" r="20"/><text x="837" y="719">china</text></g>
<g id="n-indicators" class="node"><circle class="R" cx="598" cy="1548" r="20"/><text x="598" y="1546">indicators</text></g>
<g id="n-resources" class="node"><circle class="R" cx="1607" cy="1068" r="20"/><text x="1607" y="1066">resources</text></g>
<g id="n-security" class="node"><circle class="R" cx="1094" cy="1792" r="20"/><text x="1094" y="1790">security</text></g>
<g id="n-emergency-management" class="node"><circle class="R" cx="474" cy="1836" r="20"/><text x="474" y="1830">emergency management</text></g>
<g id="n-blue-unlabelled" class="node"><circle class="B" cx="1297" cy="2246" r="20"/></g>
<g id="n-agriculture" class="node"><circle class="C" cx="2191" cy="1588" r="20"/><text x="2191" y="1580">agriculture</text></g>
<g id="n-patterns" class="node"><circle class="G" cx="1514" cy="233" r="18"/><text x="1514" y="231">patterns</text></g>
<g id="n-basin" class="node"><circle class="G" cx="1034" cy="411" r="18"/><text x="1034" y="409">basin</text></g>
<g id="n-precipitation" class="node"><circle class="G" cx="2138" cy="525" r="18"/><text x="2138" y="521">precipitation</text></g>
<g id="n-green-unlabelled" class="node"><circle class="G" cx="1927" cy="904" r="18"/></g>
<g id="n-determinants" class="node"><circle class="Y" cx="193" cy="797" r="18"/><text x="193" y="795">determinants</text></g>
<g id="n-infrastructure" class="node"><circle class="R" cx="270" cy="1076" r="18"/><text x="270" y="1068">infrastructure</text></g>
<g id="n-twitter" class="node"><circle class="R" cx="95" cy="1650" r="18"/><text x="95" y="1648">twitter</text></g>
<g id="n-sustainability" class="node"><circle class="B" cx="766" cy="2375" r="18"/><text x="766" y="2373">sustainability</text></g>
<g id="n-remote-sensing" class="node"><circle class="P" cx="1775" cy="1208" r="18"/><text x="1775" y="1206">remote sensing</text></g>
<g id="n-classification" class="node"><circle class="C" cx="2553" cy="1883" r="18"/><text x="2553" y="1877">classification</text></g>
<g id="n-segmentation" class="node"><circle class="C" cx="2866" cy="1865" r="18"/><text x="2866" y="1861">segmentation</text></g>
<g id="n-drought" class="node"><circle class="G" cx="1463" cy="49" r="16"/><text x="1463" y="45">drought</text></g>
<g id="n-climate" class="node"><circle class="G" cx="1257" cy="418" r="16"/><text x="1257" y="416">climate</text></g>
<g id="n-economic-crisis" class="node"><circle class="Y" cx="778" cy="261" r="16"/><text x="778" y="259">economic-crisis</text></g>
<g id="legend" class="leg">
<rect x="2845" y="2246" width="229" height="159" rx="12" fill="#fff" stroke="#c8c8c8" stroke-width="3"/>
<circle cx="2918" cy="2336" r="53" fill="none" stroke="#555" stroke-width="2.5"/>
<circle cx="2922" cy="2355" r="34" fill="none" stroke="#555" stroke-width="2.5"/>
<circle cx="2920" cy="2375" r="14" fill="none" stroke="#555" stroke-width="2.5"/>
<g stroke="#888" stroke-width="2" stroke-dasharray="2 3">
<line x1="2918" y1="2283" x2="2980" y2="2283"/>
<line x1="2922" y1="2321" x2="2980" y2="2321"/>
<line x1="2920" y1="2361" x2="2980" y2="2361"/>
</g>
<text x="2992" y="2293">62</text>
<text x="2992" y="2331">25</text>
<text x="2992" y="2370">4</text>
</g>
<ellipse id="highlight" cx="371" cy="1921" rx="131" ry="143" fill="none" stroke="#f00" stroke-width="12"/>
</svg>
